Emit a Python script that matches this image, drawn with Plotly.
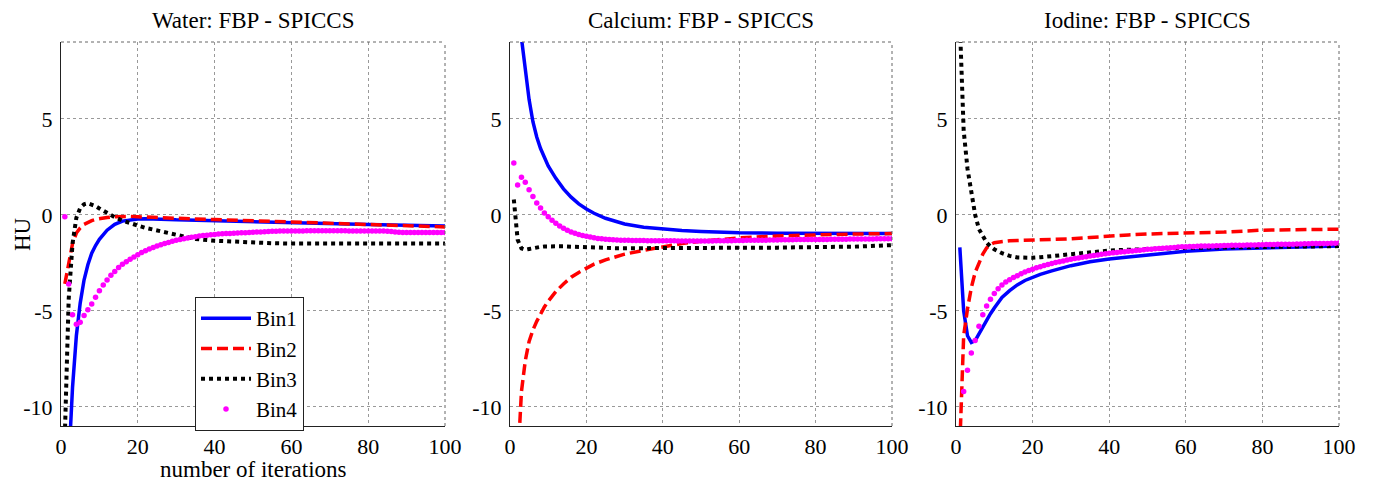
import plotly.graph_objects as go

# ---------------- data ----------------
ITER_LINE = [1, 2, 3, 4, 5, 6, 7, 8, 9, 10, 12, 14, 16, 18, 20, 22, 25, 28, 30,
             35, 40, 45, 50, 55, 60, 70, 80, 90, 100]
ITER_ALL = list(range(1, 101))

WATER_BIN1 = [-16, -13, -9.0, -6.3, -4.6, -3.4, -2.6, -2.0, -1.6, -1.28, -0.8, -0.5, -0.33, -0.26, -0.22,
              -0.2, -0.2, -0.24, -0.26, -0.28, -0.3, -0.33, -0.35, -0.38, -0.4, -0.45, -0.5, -0.55, -0.58]
WATER_BIN2 = [-3.6, -2.5, -1.5, -0.95, -0.68, -0.5, -0.38, -0.3, -0.24, -0.2, -0.14, -0.1, -0.08, -0.08, -0.1,
              -0.12, -0.14, -0.17, -0.19, -0.22, -0.25, -0.28, -0.31, -0.35, -0.38, -0.45, -0.5, -0.57, -0.63]
WATER_BIN3 = [-11.5, -4.4, -1.5, -0.15, 0.35, 0.55, 0.6, 0.55, 0.45, 0.33, 0.1, -0.12, -0.3, -0.45, -0.56,
              -0.68, -0.82, -0.97, -1.08, -1.26, -1.35, -1.41, -1.45, -1.48, -1.5, -1.5, -1.5, -1.5, -1.5]
WATER_BIN4 = [-0.1, -3.6, -5.2, -5.7, -5.6, -5.25, -4.95, -4.65, -4.3, -3.95,
              -3.65, -3.4, -3.15, -2.95, -2.75, -2.58, -2.45, -2.32, -2.2, -2.08,
              -1.97, -1.87, -1.78, -1.7, -1.63, -1.56, -1.5, -1.44, -1.38, -1.33,
              -1.29, -1.25, -1.21, -1.17, -1.14, -1.11, -1.08, -1.06, -1.04, -1.02,
              -1.0, -0.99, -0.98, -0.97, -0.96, -0.95, -0.94, -0.93, -0.92, -0.91,
              -0.9, -0.89, -0.88, -0.87, -0.86, -0.86, -0.85, -0.85, -0.85, -0.84,
              -0.84, -0.84, -0.84, -0.83, -0.83, -0.83, -0.83, -0.83, -0.83, -0.83,
              -0.83, -0.83, -0.83, -0.83, -0.84, -0.84, -0.84, -0.84, -0.84, -0.84,
              -0.84, -0.85, -0.85, -0.85, -0.86, -0.87, -0.89, -0.91, -0.92, -0.92,
              -0.92, -0.92, -0.92, -0.92, -0.92, -0.92, -0.92, -0.92, -0.92, -0.92]

CALCIUM_BIN1 = [15.5, 11.8, 9.2, 7.4, 6.0, 4.85, 4.05, 3.45, 2.95, 2.55, 1.9, 1.35, 0.92, 0.57, 0.3,
                0.08, -0.18, -0.38, -0.48, -0.65, -0.75, -0.82, -0.87, -0.91, -0.94, -0.96, -0.97, -0.98, -0.98]
CALCIUM_BIN2 = [-20, -13, -9.2, -7.6, -6.6, -6.0, -5.55, -5.15, -4.8, -4.5, -4.0, -3.6, -3.25, -3.0, -2.78,
                -2.57, -2.35, -2.15, -2.05, -1.85, -1.66, -1.5, -1.38, -1.28, -1.2, -1.1, -1.03, -1.0, -0.98]
CALCIUM_BIN3 = [0.8, -1.3, -1.75, -1.82, -1.78, -1.73, -1.69, -1.67, -1.65, -1.64, -1.63, -1.64, -1.66, -1.68, -1.7,
                -1.71, -1.73, -1.74, -1.74, -1.74, -1.74, -1.73, -1.73, -1.72, -1.72, -1.71, -1.68, -1.66, -1.58]
CALCIUM_BIN4 = [2.7, 1.55, 1.95, 1.7, 1.3, 0.95, 0.62, 0.35, 0.1, -0.1,
                -0.28, -0.44, -0.58, -0.7, -0.8, -0.89, -0.96, -1.02, -1.08, -1.12,
                -1.16, -1.2, -1.23, -1.25, -1.27, -1.29, -1.3, -1.31, -1.32, -1.33,
                -1.33, -1.34, -1.34, -1.34, -1.34, -1.35, -1.35, -1.35, -1.35, -1.35,
                -1.35, -1.35, -1.35, -1.36, -1.36, -1.36, -1.36, -1.36, -1.36, -1.36,
                -1.36, -1.36, -1.36, -1.35, -1.35, -1.35, -1.35, -1.35, -1.34, -1.34,
                -1.34, -1.33, -1.33, -1.33, -1.32, -1.32, -1.32, -1.31, -1.31, -1.31,
                -1.3, -1.3, -1.3, -1.3, -1.29, -1.29, -1.29, -1.29, -1.28, -1.28,
                -1.28, -1.28, -1.28, -1.27, -1.27, -1.27, -1.27, -1.27, -1.26, -1.26,
                -1.26, -1.26, -1.26, -1.26, -1.26, -1.25, -1.25, -1.25, -1.25, -1.25]

IODINE_BIN1 = [-1.7, -5.0, -6.3, -6.65, -6.55, -6.2, -5.85, -5.45, -5.15, -4.85, -4.3, -3.95, -3.65, -3.42, -3.25,
               -3.1, -2.92, -2.73, -2.65, -2.45, -2.3, -2.2, -2.1, -2.0, -1.9, -1.78, -1.72, -1.68, -1.63]
IODINE_BIN2 = [-12, -6.3, -4.9, -3.8, -3.0, -2.5, -2.05, -1.72, -1.55, -1.45, -1.38, -1.35, -1.34, -1.33, -1.32,
               -1.31, -1.3, -1.27, -1.25, -1.18, -1.1, -1.05, -1.0, -0.98, -0.96, -0.9, -0.8, -0.78, -0.75]
IODINE_BIN3 = [10.0, 4.4, 2.4, 1.1, 0.0, -0.75, -1.15, -1.45, -1.65, -1.8, -2.0, -2.14, -2.22, -2.25, -2.24,
               -2.21, -2.15, -2.09, -2.05, -1.95, -1.86, -1.82, -1.78, -1.75, -1.72, -1.7, -1.68, -1.66, -1.63]
IODINE_BIN4 = [-12.5, -9.2, -8.1, -7.2, -6.55, -5.8, -5.2, -4.75, -4.4, -4.1,
               -3.85, -3.65, -3.5, -3.38, -3.27, -3.17, -3.07, -2.98, -2.9, -2.83,
               -2.76, -2.7, -2.64, -2.59, -2.54, -2.49, -2.45, -2.4, -2.36, -2.32,
               -2.28, -2.25, -2.21, -2.18, -2.15, -2.12, -2.09, -2.06, -2.03, -2.0,
               -1.98, -1.96, -1.94, -1.92, -1.9, -1.88, -1.86, -1.84, -1.82, -1.8,
               -1.79, -1.77, -1.76, -1.74, -1.73, -1.71, -1.7, -1.68, -1.67, -1.66,
               -1.65, -1.65, -1.64, -1.63, -1.63, -1.62, -1.62, -1.61, -1.61, -1.6,
               -1.6, -1.59, -1.59, -1.58, -1.58, -1.57, -1.57, -1.57, -1.56, -1.56,
               -1.55, -1.55, -1.55, -1.54, -1.54, -1.53, -1.53, -1.53, -1.52, -1.52,
               -1.51, -1.51, -1.5, -1.5, -1.5, -1.49, -1.49, -1.48, -1.48, -1.47]

PANEL_TITLES = ["Water: FBP - SPICCS", "Calcium: FBP - SPICCS", "Iodine: FBP - SPICCS"]
SERIES_NAMES = ["Bin1", "Bin2", "Bin3", "Bin4"]
X_TICKS = [0, 20, 40, 60, 80, 100]
X_TICK_LABELS = ["0", "20", "40", "60", "80", "100"]
Y_TICKS = [-10, -5, 0, 5]
Y_TICK_LABELS = ["-10", "-5", "0", "5"]
X_TITLE = "number of iterations"
Y_TITLE = "HU"

PANELS = [
    (WATER_BIN1, WATER_BIN2, WATER_BIN3, WATER_BIN4),
    (CALCIUM_BIN1, CALCIUM_BIN2, CALCIUM_BIN3, CALCIUM_BIN4),
    (IODINE_BIN1, IODINE_BIN2, IODINE_BIN3, IODINE_BIN4),
]

# ---------------- layout / style ----------------
W, H = 1373, 489
FONT = "Liberation Serif"
X_PIX = [(61, 445), (510, 892), (956, 1339)]
Y_PIX = (42, 426)
y_dom = [1 - Y_PIX[1] / H, 1 - Y_PIX[0] / H]

fig = go.Figure()

for i, (b1, b2, b3, b4) in enumerate(PANELS):
    sfx = "" if i == 0 else str(i + 1)
    xa, ya = "x" + sfx, "y" + sfx
    show = i == 0
    fig.add_trace(go.Scatter(x=ITER_LINE, y=b1, mode="lines", name=SERIES_NAMES[0],
                             line=dict(color="#0000FF", width=3.5), xaxis=xa, yaxis=ya,
                             showlegend=show))
    fig.add_trace(go.Scatter(x=ITER_LINE, y=b2, mode="lines", name=SERIES_NAMES[1],
                             line=dict(color="#FF0000", width=3.5, dash="11px,5px"), xaxis=xa, yaxis=ya,
                             showlegend=show))
    fig.add_trace(go.Scatter(x=ITER_LINE, y=b3, mode="lines", name=SERIES_NAMES[2],
                             line=dict(color="#000000", width=4, dash="4px,4px"), xaxis=xa, yaxis=ya,
                             showlegend=show))
    fig.add_trace(go.Scatter(x=ITER_ALL, y=b4, mode="markers", name=SERIES_NAMES[3],
                             marker=dict(color="#FF00FF", size=5.5), xaxis=xa, yaxis=ya,
                             showlegend=show))

axis_common = dict(showline=True, linecolor="#222222", linewidth=1, mirror=False,
                   showgrid=True, gridcolor="#999999", gridwidth=1, griddash="dot",
                   zeroline=False, ticks="", automargin=False,
                   tickfont=dict(family=FONT, size=22, color="black"))

layout = dict(width=W, height=H, margin=dict(l=0, r=0, t=0, b=0, autoexpand=False),
              template="none",
              paper_bgcolor="white", plot_bgcolor="white",
              font=dict(family=FONT, size=22, color="black"))
annotations = []
shapes = []
for i in range(3):
    sfx = "" if i == 0 else str(i + 1)
    x0, x1 = X_PIX[i]
    layout["xaxis" + sfx] = dict(axis_common, domain=[x0 / W, x1 / W], range=[0, 100],
                                 tickvals=X_TICKS, ticktext=X_TICK_LABELS,
                                 anchor="y" + sfx, ticklabelstandoff=1)
    layout["yaxis" + sfx] = dict(axis_common, domain=y_dom, range=[-11, 9],
                                 tickvals=Y_TICKS, ticktext=Y_TICK_LABELS,
                                 anchor="x" + sfx, ticklabelstandoff=3)
    annotations.append(dict(text=PANEL_TITLES[i], x=(x0 + x1) / 2 / W, y=1 - 20 / H,
                            xref="paper", yref="paper", showarrow=False,
                            xanchor="center", yanchor="middle",
                            font=dict(family=FONT, size=23, color="black")))
    xr = "x" + sfx + " domain"
    yr = "y" + sfx + " domain"
    shapes.append(dict(type="line", xref=xr, yref=yr, x0=0, x1=1, y0=1, y1=1,
                       line=dict(color="#666666", width=1, dash="dot")))
    shapes.append(dict(type="line", xref=xr, yref=yr, x0=1, x1=1, y0=0, y1=1,
                       line=dict(color="#666666", width=1, dash="dot")))

annotations.append(dict(text=X_TITLE, x=(X_PIX[0][0] + X_PIX[0][1]) / 2 / W, y=1 - 469 / H,
                        xref="paper", yref="paper", showarrow=False,
                        xanchor="center", yanchor="middle",
                        font=dict(family=FONT, size=23, color="black")))
annotations.append(dict(text=Y_TITLE, x=22 / W, y=1 - 234 / H, textangle=-90,
                        xref="paper", yref="paper", showarrow=False,
                        xanchor="center", yanchor="middle",
                        font=dict(family=FONT, size=23, color="black")))

layout["annotations"] = annotations
layout["shapes"] = shapes
layout["showlegend"] = True
layout["legend"] = dict(x=195 / W, y=1 - 297 / H, xanchor="left", yanchor="top",
                        bgcolor="white", bordercolor="#222222", borderwidth=1,
                        font=dict(family=FONT, size=21, color="black"),
                        tracegroupgap=0, itemwidth=50)

fig.update_layout(**layout)
fig.write_html("out.html", config={"displayModeBar": False},
               post_script="document.body.style.margin='0';document.body.style.overflow='hidden';")
